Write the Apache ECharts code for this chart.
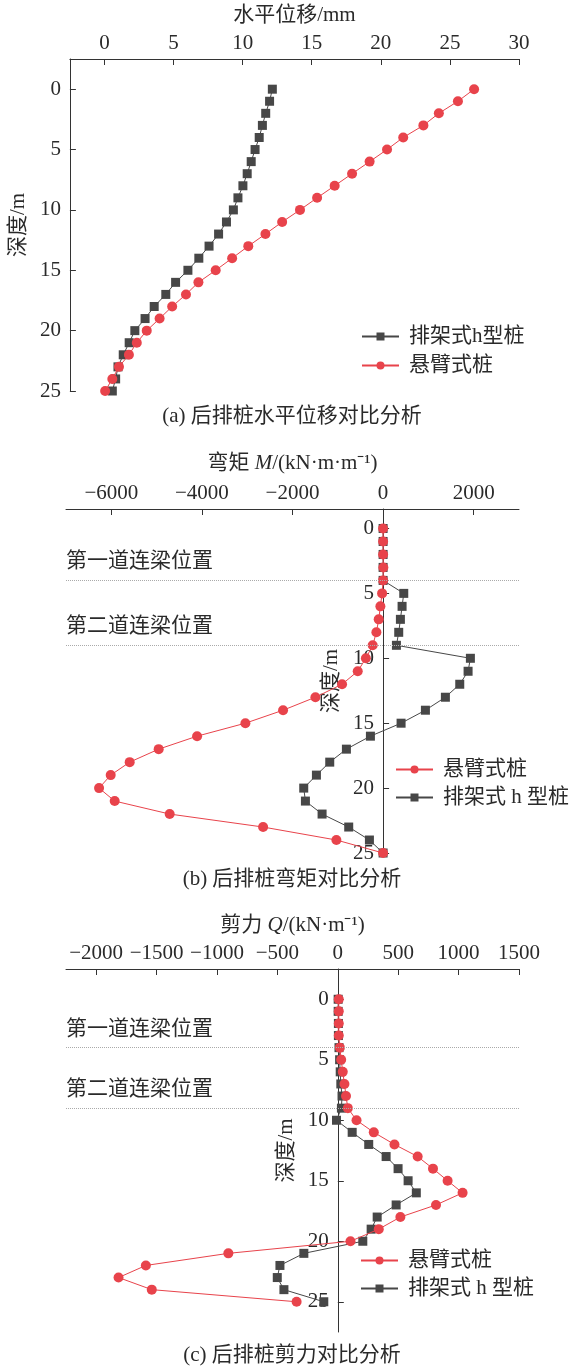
<!DOCTYPE html>
<html>
<head>
<meta charset="utf-8">
<script src="https://cdn.jsdelivr.net/npm/echarts@6/dist/echarts.min.js"></script>
<style>html,body{margin:0;padding:0;background:#fff}#c{width:572px;height:1367px}</style>
</head>
<body>
<div id="c"></div>
<script>
// ---------- data ----------
const depth = [0,1,2,3,4,5,6,7,8,9,10,11,12,13,14,15,16,17,18,19,20,21,22,23,24,25];
// (a) horizontal displacement, mm
const dispH = [12.15,11.95,11.67,11.43,11.2,10.9,10.62,10.33,10.02,9.66,9.33,8.83,8.26,7.57,6.83,6.04,5.15,4.44,3.6,2.94,2.2,1.79,1.36,0.98,0.81,0.57];
const dispC = [26.75,25.58,24.2,23.08,21.62,20.45,19.19,17.92,16.66,15.39,14.15,12.86,11.65,10.41,9.24,8.05,6.8,5.9,4.9,3.99,3.06,2.34,1.77,1.05,0.57,0.05];
// (b) bending moment, kN·m/m
const momC = [0,0,0,5,0,-22,-60,-97,-148,-230,-380,-560,-906,-1494,-2208,-3040,-4106,-4954,-5594,-6013,-6270,-5925,-4711,-2649,-1031,0];
const momH = [0,0,0,0,0,456,419,382,345,294,1927,1876,1692,1375,934,397,-280,-810,-1178,-1472,-1752,-1715,-1347,-759,-302,0];
// (c) shear force, kN/m
const shearC = [8,8,8,8,17,28,41,55,68,83,155,298,469,661,788,909,1033,813,518,339,105,-906,-1589,-1815,-1540,-341];
const shearH = [3,3,5,5,10,15,20,25,35,30,-11,119,256,400,499,582,650,483,326,276,207,-281,-479,-501,-446,-116];
// tick labels
const ticksA = [0,5,10,15,20,25,30];
const ticksB = [-6000,-4000,-2000,0,2000];
const ticksC = [-2000,-1500,-1000,-500,0,500,1000,1500];
const depthTicks = [0,5,10,15,20,25];
const beamDepths = [4,9];
const beamNames = ['第一道连梁位置','第二道连梁位置'];
const nameHA = '排架式h型桩', nameHB = '排架式 h 型桩', nameC = '悬臂式桩';
// axis ranges
const rangeA = [-2.5, 30], rangeB = [-7000, 3000], rangeC = [-2250, 1500];
const depthA = [-2.5, 25], depthB = [-1.5, 25], depthC = [-2.5, 27.5];

// ---------- style ----------
const FONT = '"Liberation Serif","Times New Roman","Noto Sans CJK SC",serif';
const FS = 21;
const TXT = '#2a2a2a';
const AX = '#333';
const RED = '#e8434b';
const GRAY = '#474747';
const minus = v => String(v).replace('-', '\u2212');
const GRIDS = [
  {left:65, width:454, top:59, height:332},
  {left:66, width:453, top:509, height:344},
  {left:66, width:453, top:969, height:363}
];

function pair(xs){ return xs.map((x,i)=>[x, depth[i]]); }
// y-axis placed at x = 0 of the value axis
function zeroOffset(gi, r){ return -GRIDS[gi].width * (0 - r[0]) / (r[1] - r[0]); }

function xAxisCfg(gi, r, ticks, name, gap){
  return {
    type:'value', gridIndex:gi, position:'top', min:r[0], max:r[1],
    name, nameLocation:'middle', nameGap:gap,
    nameTextStyle:{fontFamily:FONT, fontSize:FS, color:TXT,
      rich:{i:{fontFamily:FONT,fontSize:FS,fontStyle:'italic',color:TXT}}},
    axisLine:{show:true, onZero:false, lineStyle:{color:AX,width:1}},
    axisTick:{show:true, inside:true, length:6, customValues:ticks, lineStyle:{color:AX}},
    axisLabel:{show:true, customValues:ticks, margin:5, fontFamily:FONT, fontSize:FS, color:TXT, formatter:minus},
    splitLine:{show:false}
  };
}
function yAxisCfg(gi, r, offset, gap){
  return {
    type:'value', gridIndex:gi, position:'left', inverse:true, min:r[0], max:r[1], offset,
    name:'深度/m', nameLocation:'middle', nameGap:gap,
    nameTextStyle:{fontFamily:FONT, fontSize:FS, color:TXT},
    axisLine:{show:true, onZero:false, lineStyle:{color:AX,width:1}},
    axisTick:{show:true, inside:true, length:6, customValues:depthTicks, lineStyle:{color:AX}},
    axisLabel:{show:true, customValues:depthTicks, margin:9, fontFamily:FONT, fontSize:FS, color:TXT},
    splitLine:{show:false}
  };
}
function beamLines(){
  return {
    silent:true, symbol:'none', animation:false,
    lineStyle:{color:'#aaa', type:'dotted', width:1},
    data: beamDepths.map((d,i)=>({yAxis:d,
      label:{show:true, position:'insideStartTop', distance:[0,8], formatter:beamNames[i],
        fontFamily:FONT, fontSize:FS, color:TXT}}))
  };
}
function line(name, gi, data, isRed, extra){
  return Object.assign({
    name, type:'line', xAxisIndex:gi, yAxisIndex:gi, data,
    symbol: isRed ? 'circle' : 'rect', symbolSize: isRed ? 10 : 9,
    itemStyle:{color: isRed ? RED : GRAY},
    lineStyle:{color: isRed ? RED : GRAY, width:1},
    z: isRed ? 3 : 2
  }, extra||{});
}
function legendCfg(names, left, top, gap){
  return {
    data:names, orient:'vertical', left, top, padding:0, itemWidth:37, itemHeight:10, itemGap:gap,
    textStyle:{fontFamily:FONT, fontSize:FS, color:TXT, padding:[0,0,0,5]}
  };
}
function caption(text, top){
  return {text, left:292, top, textAlign:'center', padding:0,
    textStyle:{fontFamily:FONT, fontSize:FS, fontWeight:'normal', color:TXT}};
}

const option = {
  animation:false,
  backgroundColor:'#fff',
  title:[
    caption('(a) 后排桩水平位移对比分析', 406),
    caption('(b) 后排桩弯矩对比分析', 869),
    caption('(c) 后排桩剪力对比分析', 1345)
  ],
  legend:[
    legendCfg([nameHA, nameC], 361, 326, 8),
    legendCfg([nameC, nameHB], 395, 759, 7),
    legendCfg([nameC, nameHB], 360, 1250, 7)
  ],
  grid:GRIDS,
  xAxis:[
    xAxisCfg(0, rangeA, ticksA, '水平位移/mm', 33),
    xAxisCfg(1, rangeB, ticksB, '弯矩 {i|M}/(kN·m·m⁻¹)', 35),
    xAxisCfg(2, rangeC, ticksC, '剪力 {i|Q}/(kN·m⁻¹)', 33)
  ],
  yAxis:[
    yAxisCfg(0, depthA, 0, 36),
    yAxisCfg(1, depthB, zeroOffset(1, rangeB), 36),
    yAxisCfg(2, depthC, zeroOffset(2, rangeC), 36)
  ],
  series:[
    line(nameHA, 0, pair(dispH), false),
    line(nameC, 0, pair(dispC), true),
    line(nameHB, 1, pair(momH), false),
    line(nameC, 1, pair(momC), true, {markLine:beamLines()}),
    line(nameHB, 2, pair(shearH), false),
    line(nameC, 2, pair(shearC), true, {markLine:beamLines()})
  ]
};
const chart = echarts.init(document.getElementById('c'), null, {renderer:'canvas'});
chart.setOption(option);
</script>
</body>
</html>
